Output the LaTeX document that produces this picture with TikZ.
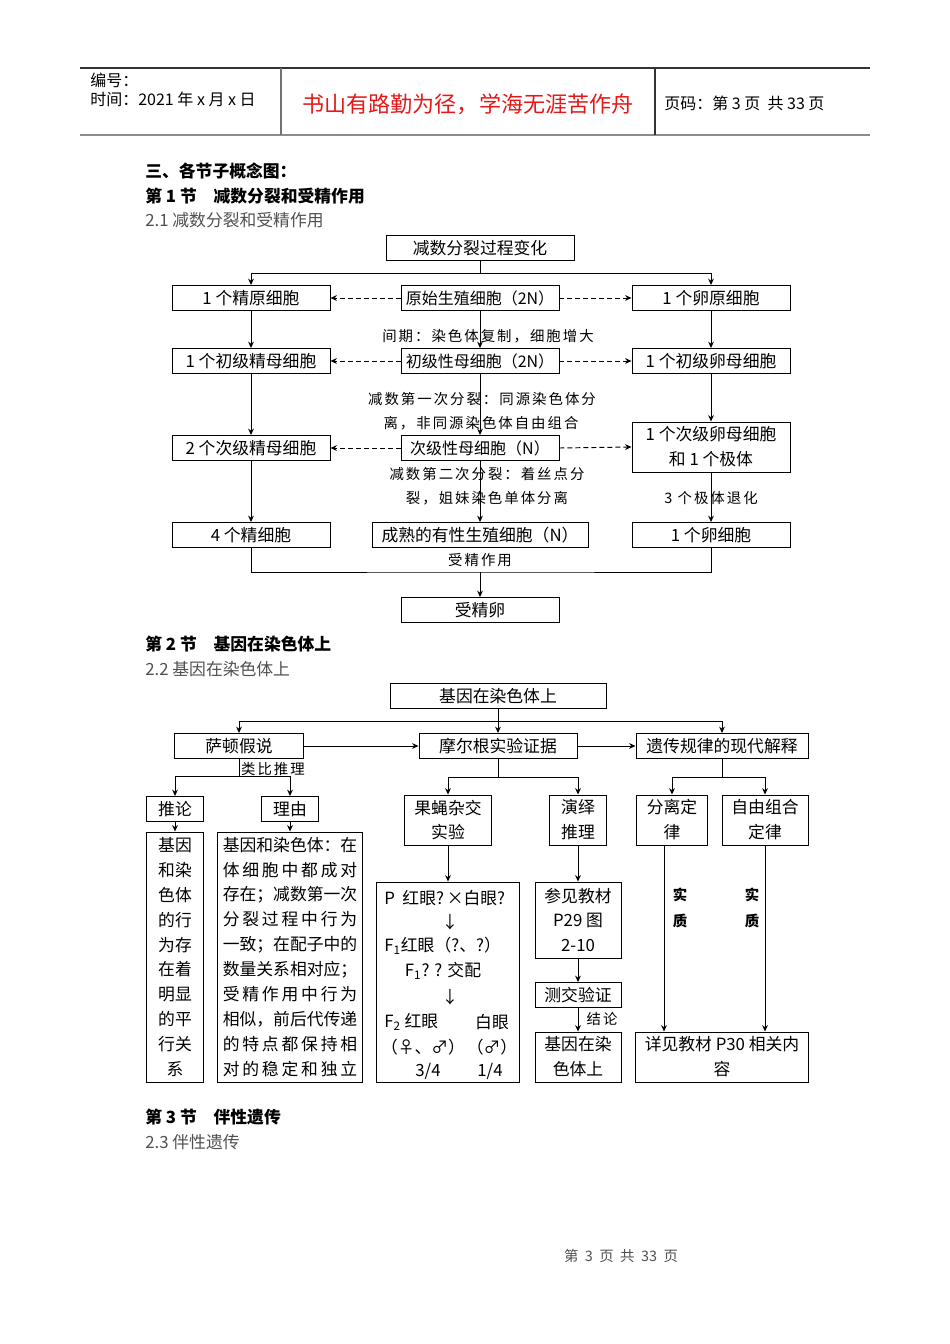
\documentclass[tikz,border=0pt]{standalone}
\usepackage{fontspec}
\setmainfont{Noto Sans CJK SC}
\newfontfamily\labfont[LetterSpace=14]{Noto Sans CJK SC}
\usetikzlibrary{arrows.meta}
\definecolor{redt}{RGB}{228,24,24}
\definecolor{grayt}{RGB}{80,80,80}
\newcommand\jl[1]{\makebox[8em][l]{#1}}
\newcommand\hf{\hfill}
\tikzset{
  fs/.style={inner sep=0pt, font=\fontsize{10.5}{15.6}\selectfont},
  bx/.style={fs, draw, line width=0.6pt, align=center},
  tight/.style={font=\fontsize{10}{15.6}\selectfont},
  wh/.style 2 args={minimum width=#1*0.625pt, minimum height=#2*0.625pt},
  arr/.style={-{Stealth[length=4pt,width=3.6pt]}, line width=0.6pt},
  dsh/.style={arr, dash pattern=on 3pt off 2pt},
  ln/.style={line width=0.6pt},
  lab/.style={inner sep=0pt, font=\labfont\fontsize{9}{12}\selectfont},
  labb/.style={inner sep=0pt, font=\fontsize{9}{12}\selectfont\bfseries},
  hd/.style={inner sep=0pt, anchor=west, font=\fontsize{10.5}{13}\selectfont\bfseries},
  sub/.style={inner sep=0pt, anchor=west, text=grayt, font=\fontsize{10.5}{13}\selectfont},
  sm/.style={inner sep=0pt, anchor=west, font=\fontsize{10}{12}\selectfont},
}
\begin{document}
\begin{tikzpicture}[x=0.625pt,y=-0.625pt]
\useasboundingbox (0,0) rectangle (950,1344);
% ---------- header ----------
\draw[line width=0.7pt, black!80] (80,68) -- (870,68);
\draw[line width=1.4pt, black!45] (80,135) -- (870,135);
\draw[line width=0.7pt, black!55] (281,68) -- (281,135);
\draw[line width=0.7pt, black!80] (655,68) -- (655,135);
\node[sm] (h1) at (90,80) {编号：};
\node[sm] (h2) at (90,99) {时间：2021 年 x 月 x 日};
\node[inner sep=0pt, text=redt, font=\fontsize{13.8}{16}\selectfont] (motto) at (468,104) {书山有路勤为径，学海无涯苦作舟};
\node[sm] (pg) at (664,103) {页码：第 3 页\ \ 共 33 页};
% ---------- section headings ----------
\node[hd] (s0) at (145,171) {三、各节子概念图：};
\node[hd] (s1) at (145,196) {第 1 节\quad 减数分裂和受精作用};
\node[sub] (s1b) at (145,220) {2.1 减数分裂和受精作用};
\node[hd] (s2) at (145,644) {第 2 节\quad 基因在染色体上};
\node[sub] (s2b) at (145,669) {2.2 基因在染色体上};
\node[hd] (s3) at (145,1117) {第 3 节\quad 伴性遗传};
\node[sub] (s3b) at (145,1142) {2.3 伴性遗传};
\node[inner sep=0pt, text=grayt, font=\fontsize{9}{12}\selectfont] (foot) at (621,1256) {第\ \ 3\ \ 页\ \ 共\ \ 33\ \ 页};

% ---------- diagram 1 ----------
\node[bx,wh={188}{25}] (top) at (480,248) {减数分裂过程变化};
\node[bx,wh={158}{25}] (jy) at (251,298) {1 个精原细胞};
\node[bx,tight,wh={158}{25}] (ys) at (480,298) {原始生殖细胞（2N）};
\node[bx,wh={158}{25}] (ly) at (711,298) {1 个卵原细胞};
\node[bx,wh={158}{25}] (cj) at (251,361) {1 个初级精母细胞};
\node[bx,tight,wh={158}{25}] (cx) at (480,361) {初级性母细胞（2N）};
\node[bx,wh={158}{25}] (cl) at (711,361) {1 个初级卵母细胞};
\node[bx,wh={158}{25}] (qj) at (251,448) {2 个次级精母细胞};
\node[bx,tight,wh={158}{25}] (qx) at (480,448) {次级性母细胞（N）};
\node[bx,wh={158}{50}] (ql) at (711,447) {1 个次级卵母细胞\\和 1 个极体};
\node[bx,wh={158}{25}] (jx) at (251,535) {4 个精细胞};
\node[bx,wh={216}{25}] (cs) at (480,535) {成熟的有性生殖细胞（N）};
\node[bx,wh={158}{25}] (lx) at (711,535) {1 个卵细胞};
\node[bx,wh={158}{25}] (sj) at (480,610) {受精卵};

\coordinate (t1) at (480,273);
\draw[ln] (top.south) -- (t1);
\draw[arr] (t1) -| (jy.north);
\draw[arr] (t1) -| (ly.north);
\draw[dsh] (ys.west) -- (jy.east);
\draw[dsh] (ys.east) -- (ly.west);
\draw[dsh] (cx.west) -- (cj.east);
\draw[dsh] (cx.east) -- (cl.west);
\draw[dsh] (qx.west) -- (qj.east);
\draw[dsh] (qx.east) -- (ql.west);
\draw[arr] (jy.south) -- (cj.north);
\draw[arr] (cj.south) -- (qj.north);
\draw[arr] (qj.south) -- (jx.north);
\draw[arr] (ly.south) -- (cl.north);
\draw[arr] (cl.south) -- (ql.north);
\draw[arr] (ql.south) -- (lx.north);
\draw[arr] (ys.south) -- (cx.north);
\draw[arr] (cx.south) -- (qx.north);
\draw[arr] (qx.south) -- (cs.north);
\coordinate (f1) at (480,572);
\draw[ln] (jx.south) |- (f1) -| (lx.south);
\draw[arr] (f1) -- (sj.north);

\node[lab] (l1) at (488,336) {间期：染色体复制，细胞增大};
\node[lab] (l2) at (482,399) {减数第一次分裂：同源染色体分};
\node[lab] (l3) at (481,423) {离，非同源染色体自由组合};
\node[lab] (l4) at (487,474) {减数第二次分裂：着丝点分};
\node[lab] (l5) at (487,498) {裂，姐妹染色单体分离};
\node[lab] (l6) at (711,498) {3 个极体退化};
\node[lab] (l7) at (480,560) {受精作用};

% ---------- diagram 2 ----------
\node[bx,wh={216}{25}] (g0) at (498,696) {基因在染色体上};
\node[bx,wh={129}{25}] (sd) at (239,746) {萨顿假说};
\node[bx,wh={158}{25}] (mg) at (498,746) {摩尔根实验证据};
\node[bx,wh={172}{25}] (yc) at (722,746) {遗传规律的现代解释};
\coordinate (h20) at (498,721);
\draw[arr] (g0.south) -- (mg.north);
\draw[arr] (h20) -| (sd.north);
\draw[arr] (h20) -| (yc.north);
\draw[arr] (sd.east) -- (mg.west);
\draw[arr] (mg.east) -- (yc.west);

% Sutton branch
\coordinate (h3) at (239,776);
\draw[ln] (sd.south) -- (h3);
\node[bx,wh={57}{25}] (tl) at (175,809) {推论};
\node[bx,wh={57}{25}] (ly2) at (290,809) {理由};
\draw[arr] (h3) -| (tl.north);
\draw[arr] (h3) -| (ly2.north);
\node[lab] (lb1) at (273,769) {类比推理};
\node[bx,wh={57}{250}] (tb) at (175,957) {基因\\和染\\色体\\的行\\为存\\在着\\明显\\的平\\行关\\系};
\node[bx,wh={145}{250}] (lb) at (290,957) {%
\jl{基\hf 因\hf 和\hf 染\hf 色\hf 体\hf ：\hf 在}\\
\jl{体\hf 细\hf 胞\hf 中\hf 都\hf 成\hf 对}\\
\jl{存\hf 在\hf ；\hf 减\hf 数\hf 第\hf 一\hf 次}\\
\jl{分\hf 裂\hf 过\hf 程\hf 中\hf 行\hf 为}\\
\jl{一\hf 致\hf ；\hf 在\hf 配\hf 子\hf 中\hf 的}\\
\jl{数\hf 量\hf 关\hf 系\hf 相\hf 对\hf 应\hf ；}\\
\jl{受\hf 精\hf 作\hf 用\hf 中\hf 行\hf 为}\\
\jl{相\hf 似\hf ，\hf 前\hf 后\hf 代\hf 传\hf 递}\\
\jl{的\hf 特\hf 点\hf 都\hf 保\hf 持\hf 相}\\
\jl{对\hf 的\hf 稳\hf 定\hf 和\hf 独\hf 立}};
\draw[arr] (tl.south) -- (tb.north);
\draw[arr] (ly2.south) -- (lb.north);

% Morgan branch
\coordinate (h4) at (498,777);
\draw[ln] (mg.south) -- (h4);
\node[bx,wh={87}{50}] (gy) at (448,820) {果蝇杂交\\实验};
\node[bx,wh={57}{50}] (yy) at (578,820) {演绎\\推理};
\draw[arr] (h4) -| (gy.north);
\draw[arr] (h4) -| (yy.north);
\node[bx,wh={143}{200}] (fb) at (448,982) {};
\draw[arr] (gy.south) -- (fb.north);
\node[fs, anchor=west] (p1) at (384,898) {P\ \ 红眼?\,×白眼?};
\node[fs] (p2) at (450,922) {↓};
\node[fs, anchor=west] (p3) at (384,946) {F\textsubscript{1}红眼（?、?）};
\node[fs] (p4) at (443,971) {F\textsubscript{1}? ? 交配};
\node[fs] (p5) at (450,997) {↓};
\node[fs, anchor=west] (p6) at (384,1022) {F\textsubscript{2}\ 红眼};
\node[fs] (p7) at (492,1022) {白眼};
\node[fs] (p8) at (423,1047) {（♀、♂）};
\node[fs] (p9) at (492,1047) {（♂）};
\node[fs] (p10) at (428,1071) {3/4};
\node[fs] (p11) at (490,1071) {1/4};
\node[bx,wh={86}{76}] (cj2) at (578,920) {参见教材\\P29 图\\2-10};
\draw[arr] (yy.south) -- (cj2.north);
\node[bx,wh={86}{25}] (cjyz) at (578,995) {测交验证};
\draw[arr] (cj2.south) -- (cjyz.north);
\node[bx,wh={86}{50}] (jz) at (578,1057) {基因在染\\色体上};
\draw[arr] (cjyz.south) -- (jz.north);
\node[lab] (jl1) at (602,1019) {结论};

% Modern interpretation branch
\coordinate (h5) at (722,777);
\draw[ln] (yc.south) -- (h5);
\node[bx,wh={71}{50}] (fl) at (672,820) {分离定\\律};
\node[bx,wh={86}{50}] (zy) at (765,820) {自由组合\\定律};
\draw[arr] (h5) -| (fl.north);
\draw[arr] (h5) -| (zy.north);
\node[bx,wh={173}{50}] (xj) at (722,1057) {详见教材 P30 相关内\\容};
\coordinate (fa) at ([xshift=-5pt]fl.south);
\draw[arr] (fa) -- (fa |- xj.north);
\draw[arr] (zy.south) -- (zy.south |- xj.north);
\node[labb] (sz1) at (680,895) {实};
\node[labb] (sz2) at (680,921) {质};
\node[labb] (sz3) at (752,895) {实};
\node[labb] (sz4) at (752,921) {质};
\end{tikzpicture}
\end{document}
